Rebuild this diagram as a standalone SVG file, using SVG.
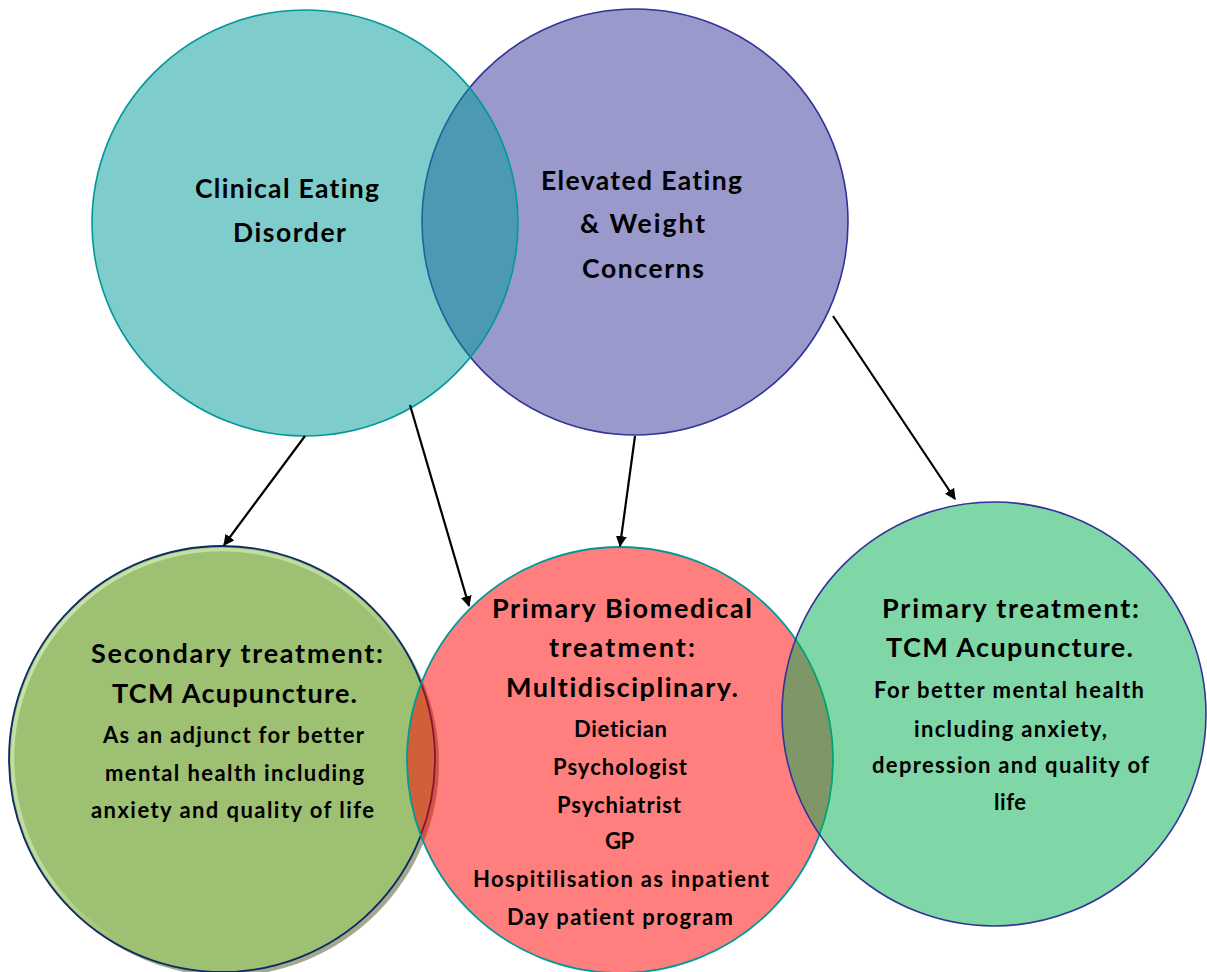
<svg xmlns="http://www.w3.org/2000/svg" width="1207" height="972" viewBox="0 0 1207 972">
<style>
.t{font-family:Lato,"Liberation Sans",sans-serif;font-weight:bold;fill:#000;text-anchor:middle;font-variant-ligatures:none;font-feature-settings:"liga" 0}
.h1{font-size:26.5px}
.h2{font-size:27px}
.s{font-size:22px}
.conn{stroke:#000;stroke-width:2.2;fill:none;marker-end:url(#arr)}
</style>
<defs>
<marker id="arr" viewBox="0 0 10 10" refX="9" refY="5" markerWidth="5" markerHeight="5" orient="auto" markerUnits="strokeWidth">
<path d="M0,0 L10,5 L0,10 z" fill="#000"/>
</marker>
<linearGradient id="hl" x1="0" y1="0" x2="1" y2="1">
<stop offset="0" stop-color="#d2e8b8" stop-opacity="0.9"/>
<stop offset="0.45" stop-color="#d2e8b8" stop-opacity="0.6"/>
<stop offset="0.6" stop-color="#d2e8b8" stop-opacity="0"/>
</linearGradient>
</defs>
<rect width="1207" height="972" fill="#fff"/>
<g id="node-elevated">
<circle cx="635" cy="222" r="213" fill="#333399" fill-opacity="0.5" stroke="#333399" stroke-width="1.6"/>
<text class="t h1" x="641.5" y="190" textLength="201">Elevated Eating</text>
<text class="t h1" x="642.5" y="233" textLength="125">&amp; Weight</text>
<text class="t h1" x="643" y="278" textLength="122">Concerns</text>
</g>
<g id="node-clinical">
<circle cx="305" cy="223" r="213" fill="#009999" fill-opacity="0.5" stroke="#009999" stroke-width="1.6"/>
<text class="t h1" x="287" y="198" textLength="184">Clinical Eating</text>
<text class="t h1" x="289.5" y="242" textLength="113">Disorder</text>
</g>
<g id="node-secondary">
<circle cx="226" cy="763" r="213" fill="#a4a88e"/>
<circle cx="222" cy="759" r="213" fill="#9ec073"/>
<circle cx="222" cy="759" r="209.5" fill="none" stroke="url(#hl)" stroke-width="3.5"/>
<circle cx="222" cy="759" r="213" fill="none" stroke="#0c2a66" stroke-width="1.8"/>
<text class="t h2" x="237" y="663" textLength="292">Secondary treatment:</text>
<text class="t h2" x="234.5" y="703" textLength="245">TCM Acupuncture.</text>
<text class="t s" x="233.5" y="743" textLength="261">As an adjunct for better</text>
<text class="t s" x="234.5" y="781" textLength="259">mental health including</text>
<text class="t s" x="232.5" y="818" textLength="283">anxiety and  quality of life</text>
</g>
<g id="node-biomedical">
<circle cx="620" cy="760" r="213" fill="#ff0000" fill-opacity="0.5" stroke="#009999" stroke-width="1.8"/>
<text class="t h2" x="622" y="618" textLength="260">Primary Biomedical</text>
<text class="t h2" x="622" y="657" textLength="146">treatment:</text>
<text class="t h2" x="622" y="697" textLength="232">Multidisciplinary.</text>
<text class="t s" x="620.5" y="737" textLength="93">Dietician</text>
<text class="t s" x="620" y="775" textLength="134">Psychologist</text>
<text class="t s" x="619" y="813" textLength="124">Psychiatrist</text>
<text class="t s" x="619.5" y="849" textLength="29">GP</text>
<text class="t s" x="621" y="887" textLength="296">Hospitilisation as inpatient</text>
<text class="t s" x="620" y="925" textLength="226">Day patient program</text>
</g>
<g id="node-primary-tcm">
<circle cx="994" cy="714" r="212" fill="#00b050" fill-opacity="0.5" stroke="#333399" stroke-width="1.6"/>
<text class="t h2" x="1010.5" y="618" textLength="257">Primary treatment:</text>
<text class="t h2" x="1009.5" y="657" textLength="247">TCM Acupuncture.</text>
<text class="t s" x="1009" y="698" textLength="270">For better mental health</text>
<text class="t s" x="1010.5" y="737" textLength="193">including anxiety,</text>
<text class="t s" x="1010.5" y="773" textLength="277">depression and quality of</text>
<text class="t s" x="1010" y="810" textLength="32">life</text>
</g>
<g id="connectors">
<line class="conn" x1="305" y1="436" x2="224" y2="545"/>
<line class="conn" x1="410" y1="405" x2="469" y2="606"/>
<line class="conn" x1="635" y1="436" x2="620" y2="546"/>
<line class="conn" x1="833" y1="316" x2="955" y2="499"/>
</g>
</svg>
